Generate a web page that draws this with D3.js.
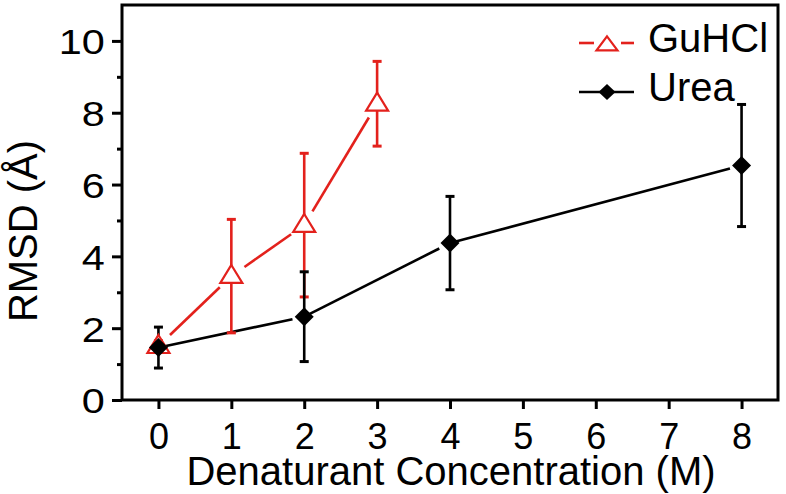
<!DOCTYPE html>
<html>
<head>
<meta charset="utf-8">
<script src="https://cdn.jsdelivr.net/npm/d3@7"></script>
<style>
  body { margin: 0; background: #fff; }
  text { font-family: "Liberation Sans", Arial, Helvetica, sans-serif; fill: #000; }
</style>
</head>
<body>
<svg width="786" height="494"></svg>
<script>
// data
var xTicks = [0, 1, 2, 3, 4, 5, 6, 7, 8];
var yTicks = [0, 2, 4, 6, 8, 10];
var yMinor = [1, 3, 5, 7, 9];

var guConc = [0, 1, 2, 3];
var guRmsd = [1.5, 3.45, 4.87, 8.25];
var guErr  = [0.15, 1.58, 2.0, 1.18];

var ureaConc = [0, 2, 4, 8];
var ureaRmsd = [1.46, 2.32, 4.37, 6.53];
var ureaErr  = [0.57, 1.25, 1.3, 1.7];

var red = "#e3211c";

var svg = d3.select("svg"),
    mLeft = 122, mRight = 778, mTop = 5, mBottom = 400;

var x = d3.scaleLinear().domain([-0.5, 8.5]).range([mLeft, mRight]);
var y = d3.scaleLinear().domain([0, 11]).range([mBottom, mTop]);

function pts(xs, ys, es) {
    return xs.map(function(v, i) { return {x: v, y: ys[i], e: es[i]}; });
}
var gu = pts(guConc, guRmsd, guErr);
var urea = pts(ureaConc, ureaRmsd, ureaErr);

// axes
var xAxis = svg.append("g")
    .attr("transform", "translate(0," + mBottom + ")")
    .call(d3.axisBottom(x).tickValues(xTicks).tickSize(9).tickPadding(14).tickFormat(d3.format("d")));
var yAxis = svg.append("g")
    .attr("transform", "translate(" + mLeft + ",0)")
    .call(d3.axisLeft(y).tickValues(yTicks).tickSize(10).tickPadding(5).tickFormat(d3.format("d")));
svg.append("g")
    .attr("transform", "translate(" + mLeft + ",0)")
    .call(d3.axisLeft(y).tickValues(yMinor).tickSize(5).tickFormat(""));

svg.selectAll(".domain").remove();
svg.selectAll(".tick line").attr("stroke", "#000").attr("stroke-width", 3);
xAxis.selectAll(".tick text").attr("font-size", 36).attr("dy", "0.71em");
yAxis.selectAll(".tick text").attr("font-size", 36).attr("dy", "0.36em")
    .attr("transform", "scale(1.15,1)");

// frame
svg.append("rect")
    .attr("x", mLeft).attr("y", mTop)
    .attr("width", mRight - mLeft).attr("height", mBottom - mTop)
    .attr("fill", "none").attr("stroke", "#000").attr("stroke-width", 3);

// axis titles
svg.append("text")
    .attr("x", 451).attr("y", 485)
    .attr("text-anchor", "middle")
    .attr("font-size", 40)
    .text("Denaturant Concentration (M)");
svg.append("text")
    .attr("transform", "translate(37,231) rotate(-90)")
    .attr("text-anchor", "middle")
    .attr("font-size", 40)
    .text("RMSD (Å)");

// connecting lines with a small gap at each marker
function gapLines(data, gap, color) {
    var segs = d3.pairs(data).map(function(p) {
        var x1 = x(p[0].x), y1 = y(p[0].y), x2 = x(p[1].x), y2 = y(p[1].y);
        var len = Math.hypot(x2 - x1, y2 - y1);
        var ux = (x2 - x1) / len, uy = (y2 - y1) / len;
        return [x1 + ux * gap[0], y1 + uy * gap[0], x2 - ux * gap[1], y2 - uy * gap[1]];
    });
    svg.append("g").selectAll("line").data(segs).enter().append("line")
        .attr("x1", function(d) { return d[0]; })
        .attr("y1", function(d) { return d[1]; })
        .attr("x2", function(d) { return d[2]; })
        .attr("y2", function(d) { return d[3]; })
        .attr("stroke", color).attr("stroke-width", 2.6);
}

function errorBars(data, color) {
    var g = svg.append("g").attr("stroke", color).attr("stroke-width", 2.6);
    g.selectAll(".bar").data(data).enter().append("line")
        .attr("x1", function(d) { return x(d.x); })
        .attr("x2", function(d) { return x(d.x); })
        .attr("y1", function(d) { return y(d.y + d.e); })
        .attr("y2", function(d) { return y(d.y - d.e); });
    [1, -1].forEach(function(s) {
        g.selectAll(".cap" + s).data(data).enter().append("line")
            .attr("x1", function(d) { return x(d.x) - 4.5; })
            .attr("x2", function(d) { return x(d.x) + 4.5; })
            .attr("y1", function(d) { return y(d.y + s * d.e); })
            .attr("y2", function(d) { return y(d.y + s * d.e); })
            .attr("stroke-width", 3);
    });
}

function triangle(w, h) {
    return "M0," + (-h * 0.62) + "L" + (w / 2) + "," + (h * 0.38) + "L" + (-w / 2) + "," + (h * 0.38) + "Z";
}
function diamond(w, h) {
    return "M0," + (-h / 2) + "L" + (w / 2) + ",0L0," + (h / 2) + "L" + (-w / 2) + ",0Z";
}

gapLines(gu, [16, 16], red);
gapLines(urea, [4, 12], "#000");
errorBars(gu, red);
errorBars(urea, "#000");

svg.append("g").selectAll("path").data(gu).enter().append("path")
    .attr("transform", function(d) { return "translate(" + x(d.x) + "," + y(d.y) + ")"; })
    .attr("d", triangle(22, 18))
    .attr("fill", "#fff").attr("stroke", red).attr("stroke-width", 2.2);

svg.append("g").selectAll("path").data(urea).enter().append("path")
    .attr("transform", function(d) { return "translate(" + x(d.x) + "," + y(d.y) + ")"; })
    .attr("d", diamond(19, 19))
    .attr("fill", "#000");

// legend
var legend = svg.append("g");
legend.append("line").attr("x1", 579).attr("x2", 594).attr("y1", 43).attr("y2", 43)
    .attr("stroke", red).attr("stroke-width", 2.6);
legend.append("line").attr("x1", 621).attr("x2", 634).attr("y1", 43).attr("y2", 43)
    .attr("stroke", red).attr("stroke-width", 2.6);
legend.append("path").attr("transform", "translate(607,45)").attr("d", triangle(21, 14))
    .attr("fill", "#fff").attr("stroke", red).attr("stroke-width", 2.2);
legend.append("text").attr("x", 648).attr("y", 52)
    .attr("font-size", 40).text("GuHCl");

legend.append("line").attr("x1", 579).attr("x2", 634).attr("y1", 92).attr("y2", 92)
    .attr("stroke", "#000").attr("stroke-width", 2.6);
legend.append("path").attr("transform", "translate(607,92)").attr("d", diamond(17, 16))
    .attr("fill", "#000");
legend.append("text").attr("x", 648).attr("y", 101)
    .attr("font-size", 40).text("Urea");
</script>
</body>
</html>
